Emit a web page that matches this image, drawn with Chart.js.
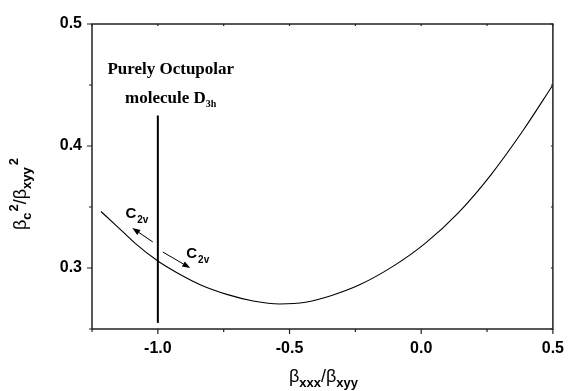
<!DOCTYPE html>
<html><head><meta charset="utf-8">
<script src="https://cdn.jsdelivr.net/npm/chart.js@4/dist/chart.umd.min.js"></script>
<style>html,body{margin:0;padding:0;background:#fff}</style>
</head><body>
<canvas id="c" width="574" height="391"></canvas>
<script>
// ---- data ----
const curveX = [-1.216, -1.160, -1.086, -1.000, -0.924, -0.837, -0.738, -0.638, -0.538, -0.439, -0.340, -0.234, -0.109, 0.015, 0.139, 0.264, 0.388, 0.500];
const curveY = [0.3463, 0.3352, 0.3202, 0.3057, 0.2957, 0.2861, 0.2784, 0.2730, 0.2705, 0.2719, 0.2775, 0.2862, 0.3011, 0.3202, 0.3448, 0.3762, 0.4131, 0.4500];
const markerX = [-1.0, -1.0];
const markerY = [0.255, 0.425];
const xMajor = [-1.0, -0.5, 0.0, 0.5];
const xMinor = [-1.25, -0.75, -0.25, 0.25];
const yMajor = [0.3, 0.4, 0.5];
const yMinor = [0.25, 0.35, 0.45];
const noteLine1 = 'Purely Octupolar';
const noteLine2 = 'molecule D';
const noteSub = '3h';
const symLabel = 'C';
const symSub = '2v';

const SANS = '"Liberation Sans", Arial, sans-serif';
const SERIF = '"Liberation Serif", "Times New Roman", serif';

function isIn(v, arr){ return arr.some(a => Math.abs(a - v) < 1e-9); }

function drawRich(ctx, parts, x, y){
  let w = 0;
  parts.forEach(p => { ctx.font = p.font; p.w = ctx.measureText(p.t).width; w += p.w + (p.gap||0); });
  let cx = x - w/2;
  ctx.textAlign = 'left'; ctx.textBaseline = 'alphabetic';
  parts.forEach(p => { ctx.font = p.font; ctx.fillText(p.t, cx, y + (p.dy||0)); cx += p.w + (p.gap||0); });
}

function arrow(ctx, x1, y1, x2, y2){
  const ang = Math.atan2(y2 - y1, x2 - x1);
  const hl = 8, hw = 3;
  ctx.beginPath(); ctx.moveTo(x1, y1);
  ctx.lineTo(x2 - hl*Math.cos(ang), y2 - hl*Math.sin(ang));
  ctx.lineWidth = 1; ctx.strokeStyle = '#000'; ctx.stroke();
  ctx.beginPath();
  ctx.moveTo(x2, y2);
  ctx.lineTo(x2 - hl*Math.cos(ang) + hw*Math.sin(ang), y2 - hl*Math.sin(ang) - hw*Math.cos(ang));
  ctx.lineTo(x2 - hl*Math.cos(ang) - hw*Math.sin(ang), y2 - hl*Math.sin(ang) + hw*Math.cos(ang));
  ctx.closePath(); ctx.fillStyle = '#000'; ctx.fill();
}

const framePlugin = {
  id: 'frame',
  beforeDraw(chart){
    const ctx = chart.ctx;
    ctx.save(); ctx.fillStyle = '#fff'; ctx.fillRect(0,0,chart.width,chart.height); ctx.restore();
  },
  afterDraw(chart){
    const ctx = chart.ctx, a = chart.chartArea, xs = chart.scales.x, ys = chart.scales.y;
    ctx.save();
    ctx.strokeStyle = '#222'; ctx.lineWidth = 1.5;
    ctx.strokeRect(a.left, a.top, a.right - a.left, a.bottom - a.top);
    ctx.lineWidth = 1.2;
    ctx.beginPath();
    [...xMajor, ...xMinor].forEach(v => {
      const px = xs.getPixelForValue(v), big = isIn(v, xMajor);
      ctx.moveTo(px, a.bottom); ctx.lineTo(px, a.bottom + (big ? 5 : 3));
      ctx.moveTo(px, a.top); ctx.lineTo(px, a.top + 2);
    });
    [...yMajor, ...yMinor].forEach(v => {
      const py = ys.getPixelForValue(v), big = isIn(v, yMajor);
      ctx.moveTo(a.left, py); ctx.lineTo(a.left - (big ? 5 : 3), py);
      ctx.moveTo(a.right, py); ctx.lineTo(a.right - 2, py);
    });
    ctx.stroke();

    // annotations
    ctx.fillStyle = '#000';
    const cx = xs.getPixelForValue(-0.951);
    ctx.font = 'bold 17px ' + SERIF; ctx.textAlign = 'center'; ctx.textBaseline = 'alphabetic';
    ctx.fillText(noteLine1, cx, ys.getPixelForValue(0.459));
    drawRich(ctx, [
      {t: noteLine2, font: 'bold 17px ' + SERIF},
      {t: noteSub, font: 'bold 10px ' + SERIF, dy: 4}
    ], cx, ys.getPixelForValue(0.4352));

    // C2v labels
    [[-1.123, 0.341], [-0.892, 0.3082]].forEach(([vx, vy]) => {
      const px = xs.getPixelForValue(vx), py = ys.getPixelForValue(vy);
      ctx.textAlign = 'left';
      ctx.font = 'bold 15px ' + SANS; ctx.fillText(symLabel, px, py);
      const w = ctx.measureText(symLabel).width;
      ctx.font = 'bold 10px ' + SANS; ctx.fillText(symSub, px + w + 1, py + 5);
    });
    arrow(ctx, xs.getPixelForValue(-1.019), ys.getPixelForValue(0.3213), xs.getPixelForValue(-1.097), ys.getPixelForValue(0.3328));
    arrow(ctx, xs.getPixelForValue(-0.981), ys.getPixelForValue(0.3131), xs.getPixelForValue(-0.877), ys.getPixelForValue(0.300));

    // axis titles
    ctx.fillStyle = '#000';
    const big = '18px ' + SANS, small = 'bold 13px ' + SANS;
    drawRich(ctx, [
      {t: 'β', font: big}, {t: 'xxx', font: small, dy: 5},
      {t: '/', font: big}, {t: 'β', font: big}, {t: 'xyy', font: small, dy: 5}
    ], (a.left + a.right)/2 + 1, 382);
    ctx.save();
    ctx.translate(26, 194); ctx.rotate(-Math.PI/2);
    drawRich(ctx, [
      {t: 'β', font: big}, {t: 'c', font: small, dy: 5, gap: 1}, {t: '2', font: small, dy: -8},
      {t: '/', font: big}, {t: 'β', font: big}, {t: 'xyy', font: small, dy: 5, gap: 2}, {t: '2', font: small, dy: -8}
    ], 0, 0);
    ctx.restore();
    ctx.restore();
  }
};

new Chart(document.getElementById('c'), {
  type: 'scatter',
  data: {
    datasets: [
      { data: curveX.map((x, i) => ({x, y: curveY[i]})), showLine: true, borderColor: '#000',
        borderWidth: 1.1, pointRadius: 0, cubicInterpolationMode: 'monotone', fill: false },
      { data: markerX.map((x, i) => ({x, y: markerY[i]})), showLine: true, borderColor: '#000',
        borderWidth: 2, pointRadius: 0, fill: false }
    ]
  },
  options: {
    responsive: false, animation: false, devicePixelRatio: 1,
    layout: { padding: { left: 0, right: 13, top: 24, bottom: 0 } },
    plugins: { legend: { display: false }, tooltip: { enabled: false } },
    scales: {
      x: {
        type: 'linear', min: -1.25, max: 0.5,
        afterBuildTicks: s => { s.ticks = [...xMajor, ...xMinor].sort((p, q) => p - q).map(v => ({value: v})); },
        afterFit: s => { s.height = 62; },
        grid: { display: false, drawTicks: false }, border: { display: false },
        ticks: { autoSkip: false, maxRotation: 0, padding: 10, color: '#000',
          font: { family: SANS, size: 16, weight: 'bold' },
          callback: v => isIn(v, xMajor) ? v.toFixed(1) : '' }
      },
      y: {
        type: 'linear', min: 0.25, max: 0.5,
        afterBuildTicks: s => { s.ticks = [...yMajor, ...yMinor].sort((p, q) => p - q).map(v => ({value: v})); },
        afterFit: s => { s.width = 92; },
        grid: { display: false, drawTicks: false }, border: { display: false },
        ticks: { autoSkip: false, padding: 10, color: '#000',
          font: { family: SANS, size: 16, weight: 'bold' },
          callback: v => isIn(v, yMajor) ? v.toFixed(1) : '' }
      }
    }
  },
  plugins: [framePlugin]
});
</script>
</body></html>
